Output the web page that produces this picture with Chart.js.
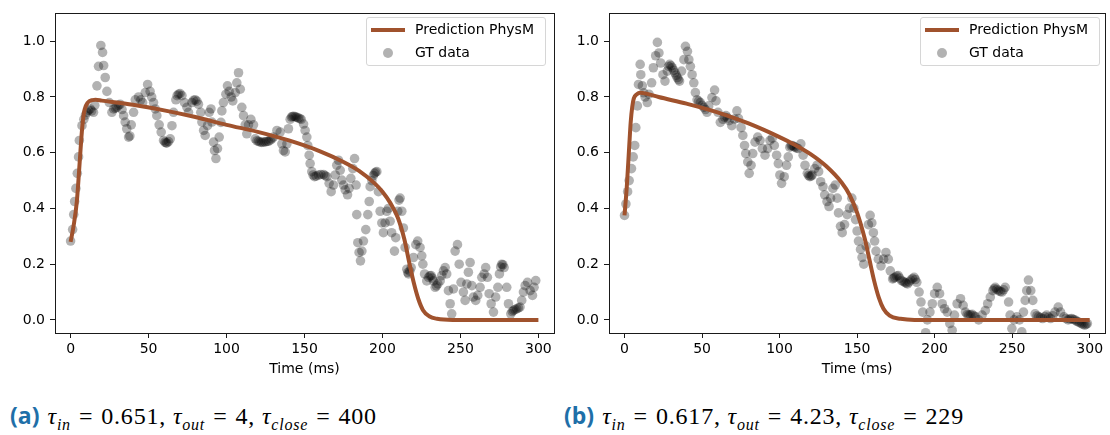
<!DOCTYPE html>
<html>
<head>
<meta charset="utf-8">
<script src="https://cdn.jsdelivr.net/npm/chart.js@4.4.0/dist/chart.umd.min.js"></script>
<style>
    body {
        margin: 0;
        width: 1110px;
        height: 435px;
        background: #fff;
        position: relative;
        overflow: hidden;
        font-family: "DejaVu Sans", sans-serif;
    }
    canvas {
        position: absolute;
        top: 0;
    }
    .legend {
        position: absolute;
        top: 17px;
        width: 178px;
        height: 47px;
        border: 1px solid #d6d6d6;
        border-radius: 3px;
        background: rgba(255, 255, 255, 0.8);
        font-size: 14px;
        color: #000;
    }
    .legend .line {
        position: absolute;
        left: 4px;
        top: 10px;
        width: 34px;
        height: 4px;
        background: #a0522d;
    }
    .legend .dot {
        position: absolute;
        left: 16px;
        top: 30px;
        width: 10px;
        height: 10px;
        border-radius: 50%;
        background: rgba(0, 0, 0, 0.3);
    }
    .legend .t1, .legend .t2 {
        position: absolute;
        left: 48px;
        white-space: nowrap;
    }
    .legend .t1 { top: 3px; }
    .legend .t2 { top: 26px; }
    .caption {
        position: absolute;
        top: 399px;
        white-space: nowrap;
        font-family: "Liberation Serif", serif;
        font-size: 24px;
        letter-spacing: 0.8px;
        color: #000;
    }
    .caption b {
        font-family: "Open Sans", "DejaVu Sans", sans-serif;
        font-weight: bold;
        font-size: 23px;
        letter-spacing: 0;
        color: #1f6fa8;
        margin-right: 8px;
    }
    .caption i sub {
        font-size: 16px;
    }
    .caption .eq {
        margin: 0 8px;
    }
</style>
</head>
<body>

<canvas id="chartA" width="560" height="380" style="left:0px"></canvas>
<canvas id="chartB" width="555" height="380" style="left:555px"></canvas>

<div class="legend" style="left:366px">
    <div class="line"></div><div class="t1">Prediction PhysM</div>
    <div class="dot"></div><div class="t2">GT data</div>
</div>
<div class="legend" style="left:920px">
    <div class="line"></div><div class="t1">Prediction PhysM</div>
    <div class="dot"></div><div class="t2">GT data</div>
</div>

<div class="caption" style="left:10px"><b>(a)</b><i>τ<sub>in</sub></i><span class="eq">=</span>0.651, <i>τ<sub>out</sub></i><span class="eq">=</span>4, <i>τ<sub>close</sub></i><span class="eq">=</span>400</div>
<div class="caption" style="left:564px"><b>(b)</b><i>τ<sub>in</sub></i><span class="eq">=</span>0.617, <i>τ<sub>out</sub></i><span class="eq">=</span>4.23, <i>τ<sub>close</sub></i><span class="eq">=</span>229</div>

<script>
// ==============================
// Data
// ==============================

const xTicks = [0, 50, 100, 150, 200, 250, 300];
const yTicks = [0.0, 0.2, 0.4, 0.6, 0.8, 1.0];

// (a) prediction curve
const predTimeA = [0, 2, 4, 6, 7, 8, 9, 11, 14, 16, 20, 40, 60, 80, 100, 120, 140, 160, 175, 185, 195, 200, 205, 210, 214, 217, 220, 223, 226, 230, 235, 245, 300];
const predValueA = [0.28, 0.34, 0.425, 0.58, 0.66, 0.72, 0.755, 0.78, 0.789, 0.79, 0.787, 0.772, 0.752, 0.728, 0.70, 0.675, 0.644, 0.605, 0.567, 0.535, 0.49, 0.46, 0.42, 0.365, 0.29, 0.21, 0.135, 0.075, 0.035, 0.013, 0.004, 0, 0];

// (a) ground truth samples
const gtTimeA = [0, 1.3, 2, 2.6, 3.4, 4.3, 5.1, 5.6, 7.3, 8.5, 9.5, 10.5, 11.5, 12.6, 13.5, 14.7, 15.5, 16.9, 17.9, 19.4, 20.5, 21.2, 22.2, 23.3, 24.8, 26.5, 27.6, 28.7, 29.7, 30.8, 31.8, 33, 34, 35, 36, 37.2, 38, 38.9, 40.4, 41.5, 43.6, 45, 46.2, 47.9, 49.4, 51, 52, 53.2, 54.3, 55.3, 56.8, 58.1, 59.6, 60.5, 61.2, 61.8, 62.8, 63.9, 65, 66, 67.5, 68.3, 69.2, 70.2, 71.4, 73, 74.6, 75.6, 77.8, 78.8, 79.9, 81, 82, 83.5, 84.2, 85.3, 86.3, 87.8, 88.9, 90, 90.6, 91.7, 92.3, 93.2, 94.2, 95.3, 96.4, 97, 98, 99.6, 100.6, 101.7, 103, 104, 105.6, 106.6, 107.7, 108.8, 109.8, 110.9, 112, 113, 114.1, 115.6, 117.3, 118.4, 119.5, 120.5, 121.5, 122.6, 123.7, 124.8, 125.8, 126.9, 128, 129, 130.1, 132.3, 134.4, 135.5, 136.5, 137.6, 138.7, 139.7, 140.8, 141.6, 142.3, 143.2, 144.1, 145, 146, 147, 147.9, 149.4, 150.4, 151.5, 152.1, 153, 153.6, 154.7, 155.5, 156.4, 157.5, 159, 160.5, 162.2, 163.2, 164.3, 165.8, 167.1, 168.6, 169.7, 170.7, 171.8, 172.9, 173.9, 175, 176.1, 177.6, 178.6, 179.7, 181, 182.1, 183.1, 183.5, 184.2, 185, 185.9, 186.8, 187.8, 189.3, 190.6, 191.5, 192.1, 193.2, 194.2, 194.9, 195.6, 196.4, 197.4, 198.5, 199.6, 200.6, 201.7, 202.8, 203.8, 204.9, 205.9, 207.7, 208.5, 209.8, 210.6, 211.3, 212.4, 213.4, 214.5, 215.6, 216.2, 216.7, 217.5, 218.4, 219.9, 221.4, 222.6, 224.1, 225.2, 225.9, 227, 228.4, 229.5, 230.4, 231.2, 232, 232.7, 233.8, 234.6, 235.5, 237, 238, 239.1, 240.2, 241.2, 242.3, 243.4, 244.4, 245.5, 246.6, 248.1, 249.2, 250.4, 251.9, 253, 254.1, 255.1, 256.2, 257.3, 258.3, 259.8, 261.1, 262.6, 263.7, 265.2, 266.2, 267.3, 268.4, 269.7, 271.2, 272.6, 274, 275, 275.8, 276.5, 277.2, 278, 279.7, 280.8, 282.3, 283.2, 284, 285, 286.1, 287.2, 288.2, 289.3, 290.4, 291.5, 293, 294.7, 296.2, 297.2, 298.3];
const gtValueA = [0.283, 0.324, 0.378, 0.425, 0.472, 0.526, 0.585, 0.644, 0.697, 0.72, 0.735, 0.745, 0.752, 0.757, 0.75, 0.745, 0.77, 0.84, 0.91, 0.985, 0.96, 0.913, 0.87, 0.82, 0.78, 0.745, 0.757, 0.76, 0.763, 0.77, 0.774, 0.755, 0.733, 0.71, 0.686, 0.656, 0.66, 0.70, 0.745, 0.79, 0.80, 0.79, 0.78, 0.816, 0.845, 0.82, 0.80, 0.78, 0.757, 0.733, 0.70, 0.674, 0.644, 0.638, 0.635, 0.635, 0.64, 0.65, 0.697, 0.745, 0.79, 0.805, 0.81, 0.812, 0.805, 0.78, 0.763, 0.745, 0.78, 0.788, 0.79, 0.785, 0.774, 0.745, 0.71, 0.68, 0.662, 0.697, 0.745, 0.757, 0.71, 0.638, 0.608, 0.579, 0.615, 0.656, 0.709, 0.75, 0.78, 0.81, 0.84, 0.82, 0.80, 0.786, 0.816, 0.851, 0.887, 0.828, 0.763, 0.733, 0.70, 0.668, 0.70, 0.72, 0.70, 0.65, 0.643, 0.641, 0.638, 0.637, 0.638, 0.639, 0.64, 0.641, 0.645, 0.65, 0.656, 0.68, 0.674, 0.632, 0.608, 0.603, 0.632, 0.686, 0.72, 0.728, 0.73, 0.731, 0.729, 0.727, 0.725, 0.722, 0.72, 0.703, 0.68, 0.656, 0.626, 0.591, 0.561, 0.532, 0.52, 0.514, 0.516, 0.52, 0.522, 0.522, 0.518, 0.514, 0.49, 0.46, 0.484, 0.52, 0.555, 0.573, 0.537, 0.502, 0.484, 0.467, 0.449, 0.472, 0.508, 0.543, 0.579, 0.484, 0.378, 0.277, 0.242, 0.212, 0.247, 0.283, 0.324, 0.378, 0.425, 0.478, 0.50, 0.518, 0.526, 0.53, 0.532, 0.46, 0.39, 0.348, 0.313, 0.348, 0.39, 0.40, 0.354, 0.313, 0.247, 0.295, 0.39, 0.43, 0.437, 0.39, 0.33, 0.26, 0.182, 0.17, 0.165, 0.175, 0.188, 0.224, 0.27, 0.283, 0.26, 0.23, 0.20, 0.165, 0.14, 0.153, 0.158, 0.159, 0.15, 0.14, 0.117, 0.122, 0.129, 0.14, 0.159, 0.176, 0.188, 0.165, 0.105, 0.058, 0.022, 0.111, 0.247, 0.27, 0.20, 0.135, 0.10, 0.07, 0.129, 0.171, 0.206, 0.123, 0.082, 0.07, 0.088, 0.117, 0.153, 0.165, 0.188, 0.153, 0.094, 0.058, 0.028, 0.082, 0.117, 0.165, 0.19, 0.20, 0.198, 0.188, 0.117, 0.058, 0.022, 0.03, 0.034, 0.037, 0.04, 0.043, 0.046, 0.07, 0.10, 0.123, 0.135, 0.105, 0.088, 0.117, 0.141];

// (b) prediction curve
const predTimeB = [0, 1.5, 3, 4, 5, 6, 8, 10, 14, 22, 40, 60, 80, 100, 110, 120, 130, 140, 145, 150, 155, 158, 161, 164, 167, 171, 178, 187, 300];
const predValueB = [0.375, 0.48, 0.62, 0.71, 0.765, 0.795, 0.81, 0.815, 0.812, 0.80, 0.776, 0.745, 0.705, 0.656, 0.628, 0.595, 0.552, 0.493, 0.45, 0.385, 0.29, 0.215, 0.14, 0.08, 0.04, 0.015, 0.004, 0, 0];

// (b) ground truth samples
const gtTimeB = [0, 0.9, 2, 3, 4.5, 5.6, 6.6, 7.3, 8.3, 9, 10.1, 10.5, 11.5, 12.4, 13.3, 14.7, 15.8, 17.5, 18.6, 20.1, 21.2, 22.2, 23.3, 24.8, 26.1, 27.6, 28.4, 29.1, 30, 30.8, 31.7, 32.5, 33.3, 34, 34.8, 35.5, 36.8, 38.3, 39.3, 40.6, 41.5, 42.5, 43.6, 44.7, 45.7, 46.8, 47.8, 48.9, 50, 51.1, 52.2, 53.2, 54.3, 56.4, 58.1, 59, 60.3, 61.8, 63.5, 64.5, 65.4, 66.5, 67.5, 69.2, 70.9, 72.5, 73.5, 75.2, 76.3, 77.4, 78.2, 79.5, 80.4, 81.6, 82.7, 84.2, 85.9, 87.4, 88.9, 90.6, 92.3, 93.8, 95.3, 96.6, 98.1, 99.2, 100.2, 101.3, 103, 104.5, 105.6, 106.6, 107.4, 108.1, 109, 109.8, 111, 112, 113.7, 115.2, 116.4, 117.9, 118.7, 119.5, 120.3, 121, 122.7, 124.2, 125.2, 126.5, 128, 129.1, 130.6, 131.9, 132.9, 134.4, 135.9, 137.2, 138, 139.3, 140.4, 141.9, 143.6, 145.1, 146.6, 147.9, 149, 150, 150.9, 152.2, 153.2, 154.3, 155.8, 157.3, 158.4, 159.5, 160.5, 161.3, 162.2, 163.7, 165.4, 167.1, 168.6, 170.1, 171.4, 172.9, 173.6, 174.4, 175.5, 176.5, 177.5, 178.6, 179.7, 180.8, 181.6, 182.5, 183.5, 184.6, 185.7, 186.8, 187.6, 188.5, 190, 191.2, 192.3, 194.2, 195.3, 197, 198.5, 200, 201.7, 203.2, 204.9, 206.4, 208.1, 209.8, 211.3, 212.8, 214.5, 216.7, 218.4, 219.9, 221, 222, 223.1, 224.2, 225.3, 226.3, 228.4, 230.6, 232.7, 234.2, 235.9, 237.6, 238.4, 239.1, 240.1, 241.2, 242.3, 243.4, 244.5, 245.5, 247.7, 248.7, 249.8, 251.3, 253, 254.7, 256.2, 257.3, 258.4, 259.4, 260.5, 262, 263.3, 264.8, 266, 267, 268.3, 269.7, 271, 272.3, 273.5, 274.8, 276.2, 277.6, 279.7, 281.2, 283.4, 284.7, 286.1, 287.2, 288.3, 289.3, 290.4, 291.5, 292.5, 293.6, 294.7, 295.7, 296.8, 297.7, 298.5];
const gtValueB = [0.375, 0.416, 0.46, 0.50, 0.543, 0.585, 0.626, 0.69, 0.768, 0.845, 0.917, 0.88, 0.84, 0.815, 0.80, 0.78, 0.81, 0.851, 0.905, 0.948, 0.996, 0.958, 0.922, 0.88, 0.857, 0.893, 0.91, 0.917, 0.912, 0.905, 0.896, 0.887, 0.878, 0.87, 0.862, 0.857, 0.893, 0.934, 0.982, 0.964, 0.934, 0.91, 0.88, 0.851, 0.816, 0.79, 0.785, 0.78, 0.77, 0.763, 0.755, 0.745, 0.768, 0.798, 0.825, 0.786, 0.745, 0.709, 0.72, 0.728, 0.733, 0.725, 0.715, 0.697, 0.721, 0.75, 0.723, 0.69, 0.662, 0.626, 0.597, 0.567, 0.526, 0.555, 0.597, 0.638, 0.656, 0.644, 0.615, 0.591, 0.615, 0.644, 0.652, 0.626, 0.591, 0.561, 0.52, 0.49, 0.514, 0.555, 0.585, 0.62, 0.625, 0.626, 0.623, 0.62, 0.617, 0.615, 0.632, 0.591, 0.555, 0.526, 0.518, 0.514, 0.516, 0.52, 0.543, 0.555, 0.532, 0.496, 0.478, 0.449, 0.425, 0.407, 0.437, 0.472, 0.484, 0.437, 0.384, 0.336, 0.313, 0.342, 0.378, 0.401, 0.437, 0.401, 0.36, 0.319, 0.283, 0.253, 0.224, 0.20, 0.265, 0.342, 0.375, 0.348, 0.313, 0.283, 0.247, 0.218, 0.194, 0.218, 0.242, 0.218, 0.176, 0.147, 0.15, 0.153, 0.157, 0.159, 0.15, 0.141, 0.138, 0.135, 0.132, 0.129, 0.136, 0.143, 0.148, 0.153, 0.145, 0.135, 0.10, 0.064, 0.028, -0.046, 0, 0.028, 0.058, 0.094, 0.117, 0.094, 0.058, 0.04, 0.028, -0.013, -0.037, 0.017, 0.058, 0.076, 0.052, 0.028, 0.02, 0.017, 0.018, 0.02, 0.015, 0.011, 0, 0.017, 0.034, 0.058, 0.082, 0.105, 0.112, 0.117, 0.11, 0.105, 0.102, 0.10, 0.108, 0.117, 0.064, 0.017, -0.031, 0, 0.011, 0, -0.043, 0.028, 0.07, 0.105, 0.143, 0.105, 0.07, 0.022, 0.015, 0.011, 0.008, 0.005, 0.012, 0.017, 0.01, 0.005, 0.015, 0.028, 0.046, 0.028, 0.011, 0.005, 0, 0.003, 0.005, 0.002, 0, -0.004, -0.007, -0.01, -0.013, -0.016, -0.019, -0.016, -0.013];

// ==============================
// Helpers
// ==============================

function toPoints(xs, ys) {
    return xs.map((x, i) => ({ x: x, y: ys[i] }));
}

// matplotlib style box around the axes
const boxPlugin = {
    id: "box",
    afterDraw(chart) {
        const a = chart.chartArea;
        const ctx = chart.ctx;
        ctx.save();
        ctx.strokeStyle = "#1a1a1a";
        ctx.lineWidth = 1;
        ctx.strokeRect(Math.round(a.left) + 0.5, Math.round(a.top) + 0.5,
            Math.round(a.right - a.left), Math.round(a.bottom - a.top));
        ctx.restore();
    }
};

const tickFont = { family: "DejaVu Sans", size: 14 };

function makeChart(id, predT, predV, gtT, gtV, rightPad) {

    return new Chart(document.getElementById(id), {
        type: "scatter",
        data: {
            datasets: [
                {
                    label: "Prediction PhysM",
                    data: toPoints(predT, predV),
                    showLine: true,
                    borderColor: "#a0522d",
                    borderWidth: 4,
                    pointRadius: 0,
                    cubicInterpolationMode: "monotone",
                    order: 0
                },
                {
                    label: "GT data",
                    data: toPoints(gtT, gtV),
                    backgroundColor: "rgba(0,0,0,0.3)",
                    borderWidth: 0,
                    pointRadius: 4.8,
                    order: 1
                }
            ]
        },
        options: {
            responsive: false,
            animation: false,
            layout: {
                padding: { top: 10, right: rightPad, left: 0, bottom: 0 }
            },
            plugins: {
                legend: { display: false },
                tooltip: { enabled: false }
            },
            scales: {
                x: {
                    type: "linear",
                    min: -10,
                    max: 310,
                    afterBuildTicks: (scale) => {
                        scale.ticks = xTicks.map(v => ({ value: v }));
                    },
                    afterFit: (scale) => { scale.height = 47; },
                    ticks: {
                        font: tickFont,
                        color: "#000",
                        padding: 3,
                        maxRotation: 0,
                        callback: (v) => String(v)
                    },
                    grid: {
                        display: true,
                        drawOnChartArea: false,
                        drawTicks: true,
                        tickLength: 5,
                        color: "#1a1a1a"
                    },
                    border: { display: true, color: "#1a1a1a" },
                    title: {
                        display: true,
                        text: "Time (ms)",
                        font: tickFont,
                        color: "#000",
                        padding: { top: 0, bottom: 2 }
                    }
                },
                y: {
                    type: "linear",
                    min: -0.047,
                    max: 1.1,
                    afterBuildTicks: (scale) => {
                        scale.ticks = yTicks.map(v => ({ value: v }));
                    },
                    afterFit: (scale) => { scale.width = id === "chartA" ? 55 : 54; },
                    ticks: {
                        font: tickFont,
                        color: "#000",
                        padding: 5,
                        callback: (v) => Number(v).toFixed(1)
                    },
                    grid: {
                        display: true,
                        drawOnChartArea: false,
                        drawTicks: true,
                        tickLength: 5,
                        color: "#1a1a1a"
                    },
                    border: { display: true, color: "#1a1a1a" }
                }
            }
        },
        plugins: [boxPlugin]
    });
}

// ==============================
// Draw both panels
// ==============================

makeChart("chartA", predTimeA, predValueA, gtTimeA, gtValueA, 6);
makeChart("chartB", predTimeB, predValueB, gtTimeB, gtValueB, 3);
</script>
</body>
</html>
